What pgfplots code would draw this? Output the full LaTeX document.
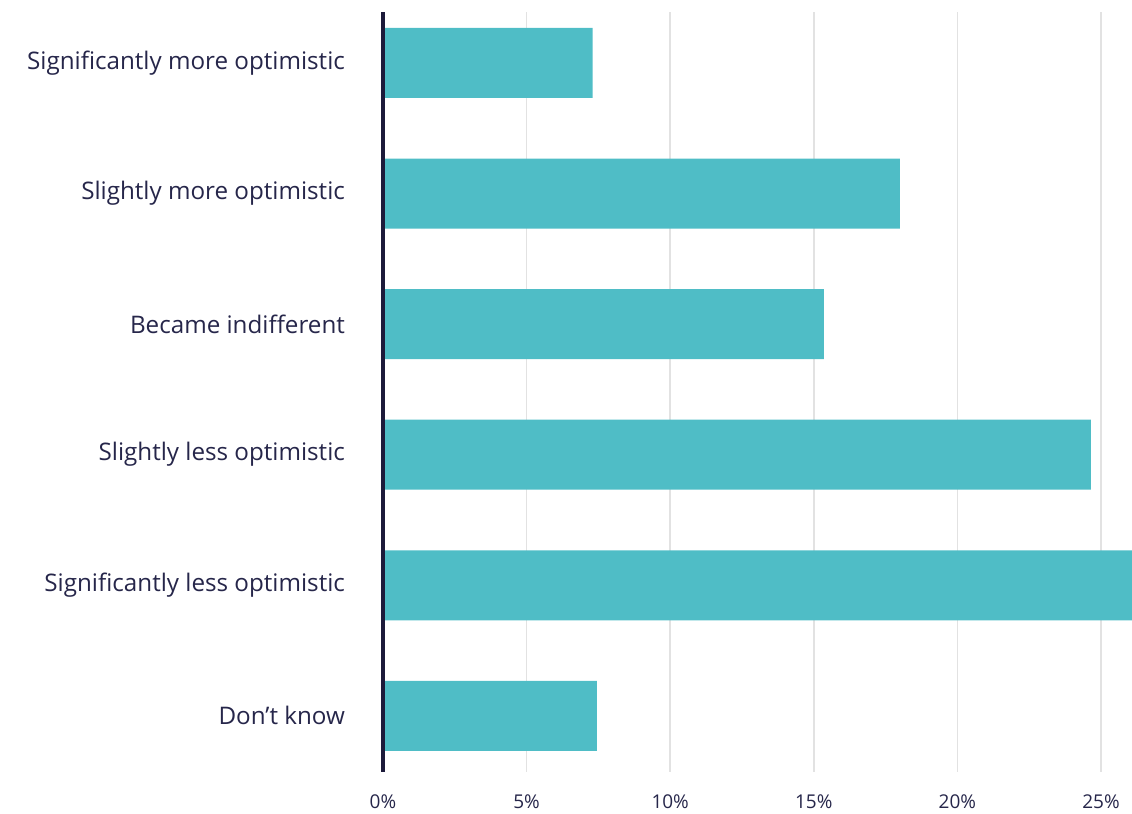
\documentclass[border=0pt]{standalone}
\usepackage{fontspec}
\setmainfont{Open Sans}
\usepackage{pgfplots}
\pgfplotsset{compat=1.18}
\definecolor{barc}{HTML}{4FBDC6}
\definecolor{txt}{HTML}{26264A}
\definecolor{axl}{HTML}{1C1A3A}
\definecolor{grd}{HTML}{E2E2E2}
\begin{document}
\begin{tikzpicture}
\path[use as bounding box] (-191.5pt,-21pt) rectangle (374.5pt,386pt);
\begin{axis}[
  at={(0,0)}, anchor=south west,
  width=374.5pt, height=380pt, scale only axis,
  xbar, bar width=35pt,
  xmin=0, xmax=26.08,
  ymin=-0.39, ymax=5.43,
  y dir=reverse,
  ytick={0,1,2,3,4,5},
  yticklabels={Significantly more optimistic, Slightly more optimistic, Became indifferent, Slightly less optimistic, Significantly less optimistic, Don’t know},
  xtick={0,5,10,15,20,25},
  xticklabel={\pgfmathprintnumber{\tick}\%},
  /pgf/number format/assume math mode=true,
  major tick length=0pt,
  xmajorgrids, grid style={grd, line width=0.8pt},
  axis line style={draw=none},
  xticklabel style={font=\fontsize{9.5}{11}\selectfont, text=txt, yshift=-8pt},
  yticklabel style={font=\fontsize{12.1}{14}\selectfont, text=txt, xshift=-15.5pt},
  clip mode=individual,
]
\addplot[fill=barc, draw=none] coordinates {
  (7.3,0) (18.0,1) (15.35,2) (24.65,3) (27.5,4) (7.45,5)
};
\draw[axl, line width=1.8pt] (axis cs:0,-0.39) -- (axis cs:0,5.43);
\end{axis}
\end{tikzpicture}
\end{document}
